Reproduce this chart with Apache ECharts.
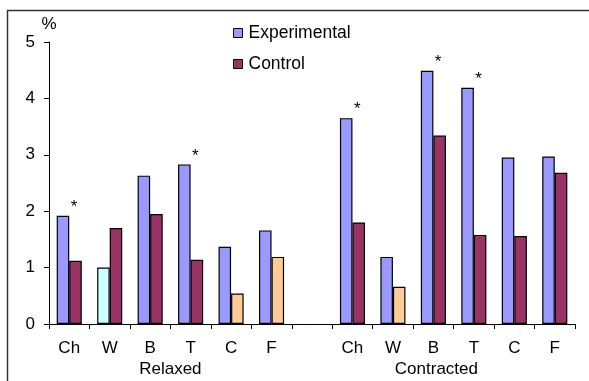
<!DOCTYPE html>
<html><head><meta charset="utf-8">
<script src="https://cdn.jsdelivr.net/npm/echarts@6/dist/echarts.min.js"></script>
<style>html,body{margin:0;padding:0;background:#fff}#c{width:589px;height:381px}</style>
</head><body><div id="c"></div>
<script>
const categories = ['Ch','W','B','T','C','F','','Ch','W','B','T','C','F'];
const groups = ['Relaxed','Contracted'];
const experimental = [1.92,1.00,2.63,2.83,1.37,1.66,null,3.65,1.19,4.49,4.19,2.95,2.97];
const control = [1.12,1.70,1.95,1.14,0.54,1.19,null,1.80,0.66,3.34,1.58,1.56,2.68];
const significant = [true,false,false,true,false,false,false,true,false,true,true,false,false];
// per-bar colour overrides (reference uses lighter fills for some bars)
const expColors = ['#9999FF','#CCFFFF','#9999FF','#9999FF','#9999FF','#9999FF',null,'#9999FF','#9999FF','#9999FF','#9999FF','#9999FF','#9999FF'];
const ctrlColors = ['#993366','#993366','#993366','#993366','#FFCC99','#FFCC99',null,'#993366','#FFCC99','#993366','#993366','#993366','#993366'];
const yTicks = [0,1,2,3,4,5];

const font = 'Liberation Sans, Arial, sans-serif';
const chart = echarts.init(document.getElementById('c'), null, {renderer:'canvas'});
const option = {
  animation:false,
  backgroundColor:'#fff',
  grid:{left:49, right:14, top:42, bottom:57, containLabel:false},
  legend:{
    orient:'vertical', left:228, top:19, itemGap:13, itemWidth:9, itemHeight:9,
    icon:'rect',
    textStyle:{fontFamily:font, fontSize:17.5, color:'#000', padding:[0,0,0,1]},
    data:[{name:'Experimental', itemStyle:{color:'#9999FF', borderColor:'#000', borderWidth:1}},
          {name:'Control', itemStyle:{color:'#993366', borderColor:'#000', borderWidth:1}}]
  },
  xAxis:{
    type:'category', data:categories,
    axisLine:{lineStyle:{color:'#000', width:1}},
    axisTick:{show:true, length:5, lineStyle:{color:'#000'}, interval:0},
    axisLabel:{fontFamily:font, fontSize:17, color:'#000', margin:16, interval:0}
  },
  yAxis:{
    type:'value', min:yTicks[0], max:yTicks[yTicks.length-1], interval:1,
    name:'%', nameLocation:'end', nameGap:9,
    nameTextStyle:{fontFamily:font, fontSize:17, color:'#000', align:'center'},
    splitLine:{show:false},
    axisLine:{show:true, lineStyle:{color:'#000', width:1}},
    axisTick:{show:true, length:5, inside:false, lineStyle:{color:'#000'}},
    axisLabel:{fontFamily:font, fontSize:17, color:'#000', margin:14}
  },
  series:[
    {name:'Experimental', type:'bar', barGap:'0%', barCategoryGap:'38%',
     data:experimental.map((v,i)=>({value:v, itemStyle:{color:expColors[i]||'#9999FF'}})),
     itemStyle:{borderColor:'#000', borderWidth:1.2},
     label:{show:true, position:'top', distance:0, offset:[11,0],
       formatter:p=>significant[p.dataIndex]?'*':'',
       fontFamily:font, fontSize:17, color:'#000'}
    },
    {name:'Control', type:'bar',
     data:control.map((v,i)=>({value:v, itemStyle:{color:ctrlColors[i]||'#993366'}})),
     itemStyle:{borderColor:'#000', borderWidth:1.2}
    }
  ]
};
chart.setOption(option);
const base = chart.convertToPixel({gridIndex:0},[0,0])[1];
const px = i => chart.convertToPixel({xAxisIndex:0}, i);
const relX = (px(0)+px(5))/2, conX = (px(6)+px(12))/2 + 3;
chart.setOption({graphic:[
  {type:'rect', shape:{x:7.5, y:10.5, width:700, height:500}, style:{fill:'none', stroke:'#333', lineWidth:1.5}, silent:true, z:-1},
  {type:'text', x:relX, y:base+45, style:{text:groups[0], font:'17px '+font, fill:'#000', textAlign:'center', textVerticalAlign:'middle'}},
  {type:'text', x:conX, y:base+45, style:{text:groups[1], font:'17px '+font, fill:'#000', textAlign:'center', textVerticalAlign:'middle'}}
]});
</script></body></html>
